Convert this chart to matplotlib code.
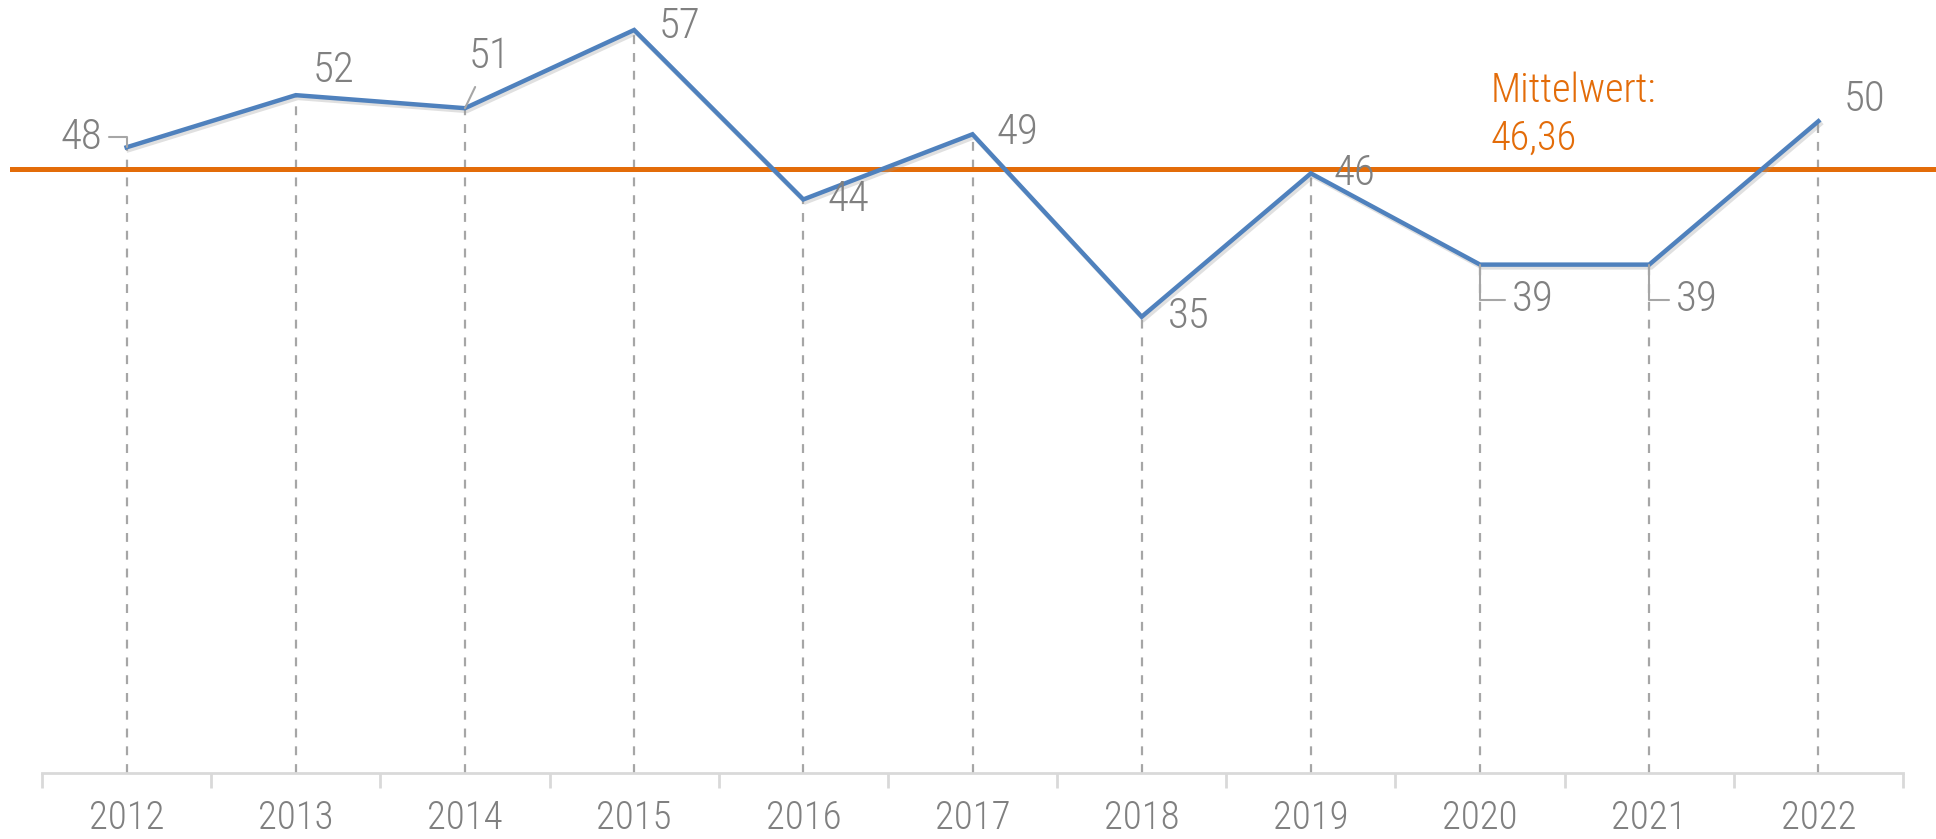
import matplotlib.pyplot as plt
import matplotlib.patheffects as pe

plt.rcParams.update({
    "font.family": ["Roboto Condensed", "Roboto", "DejaVu Sans"],
    "font.weight": "light",
    "figure.dpi": 100,
})

BLUE = "#4f81bd"
ORANGE = "#e36c09"
GRAY = "#808080"
LIGHT = "#d9d9d9"
DASH = "#a6a6a6"

years = ["2012", "2013", "2014", "2015", "2016", "2017",
         "2018", "2019", "2020", "2021", "2022"]
values = [48, 52, 51, 57, 44, 49, 35, 46, 39, 39, 50]
mean_value = 46.36
mean_label = "Mittelwert:\n46,36"

# label offsets in pixels from each point (dx, dy), and leader line style
offsets = [(-45, 10), (38, 25), (25, 52), (45, 3), (45, 0), (45, 2),
           (47, 0), (44, 0), (53, -35), (48, -35), (46, 22)]
leaders = ["angle", None, "straight", None, None, None, None, None, "angle", "angle", None]

fig = plt.figure(figsize=(19.36, 8.39))
ax = fig.add_axes([42 / 1936, 1 - 773 / 839, 1861 / 1936, 773 / 839])

x = list(range(len(years)))
ax.set_xlim(-0.5, len(years) - 0.5)
ax.set_ylim(0, 59.3)

# drop lines
ax.vlines(x, 0, values, colors=DASH, linestyles=(0, (4, 4)), linewidth=1.6, zorder=1)

# mean line, extends slightly past the plot area
ax.axhline(mean_value, xmin=-0.016, xmax=1.02, color=ORANGE, linewidth=3.6,
           clip_on=False, zorder=2)
ax.text(8.06, 50.5, mean_label, color=ORANGE, fontsize=29,
        ha="left", va="center", linespacing=1.32)

ax.plot(x, values, color=BLUE, linewidth=3.2, zorder=3, solid_joinstyle="miter",
        path_effects=[pe.SimpleLineShadow(offset=(1.5, -2), shadow_color="#999999", alpha=0.3),
                      pe.Normal()])

for xi, v, (dx, dy), lead in zip(x, values, offsets, leaders):
    arrow = None
    if lead == "angle":
        arrow = dict(arrowstyle="-", color=DASH, lw=1.5, shrinkA=3, shrinkB=0,
                     connectionstyle="angle,angleA=0,angleB=90,rad=0")
    elif lead == "straight":
        arrow = dict(arrowstyle="-", color=DASH, lw=1.5, shrinkA=6, shrinkB=0)
    ax.annotate(str(v), xy=(xi, v), xytext=(dx, dy), textcoords="offset pixels",
                ha="center", va="center", fontsize=31, color=GRAY,
                arrowprops=arrow, zorder=4)

# category axis with boundary ticks
for s in ["top", "right", "left"]:
    ax.spines[s].set_visible(False)
ax.spines["bottom"].set_color(LIGHT)
ax.spines["bottom"].set_linewidth(2)
ax.set_yticks([])
ax.set_xticks(x)
ax.set_xticklabels(years, fontsize=28, color=GRAY)
ax.tick_params(axis="x", length=0, pad=19)
ax.set_xticks([i - 0.5 for i in range(len(years) + 1)], minor=True)
ax.tick_params(axis="x", which="minor", length=11, width=2, color=LIGHT)

fig.savefig("out.png", dpi=100)
